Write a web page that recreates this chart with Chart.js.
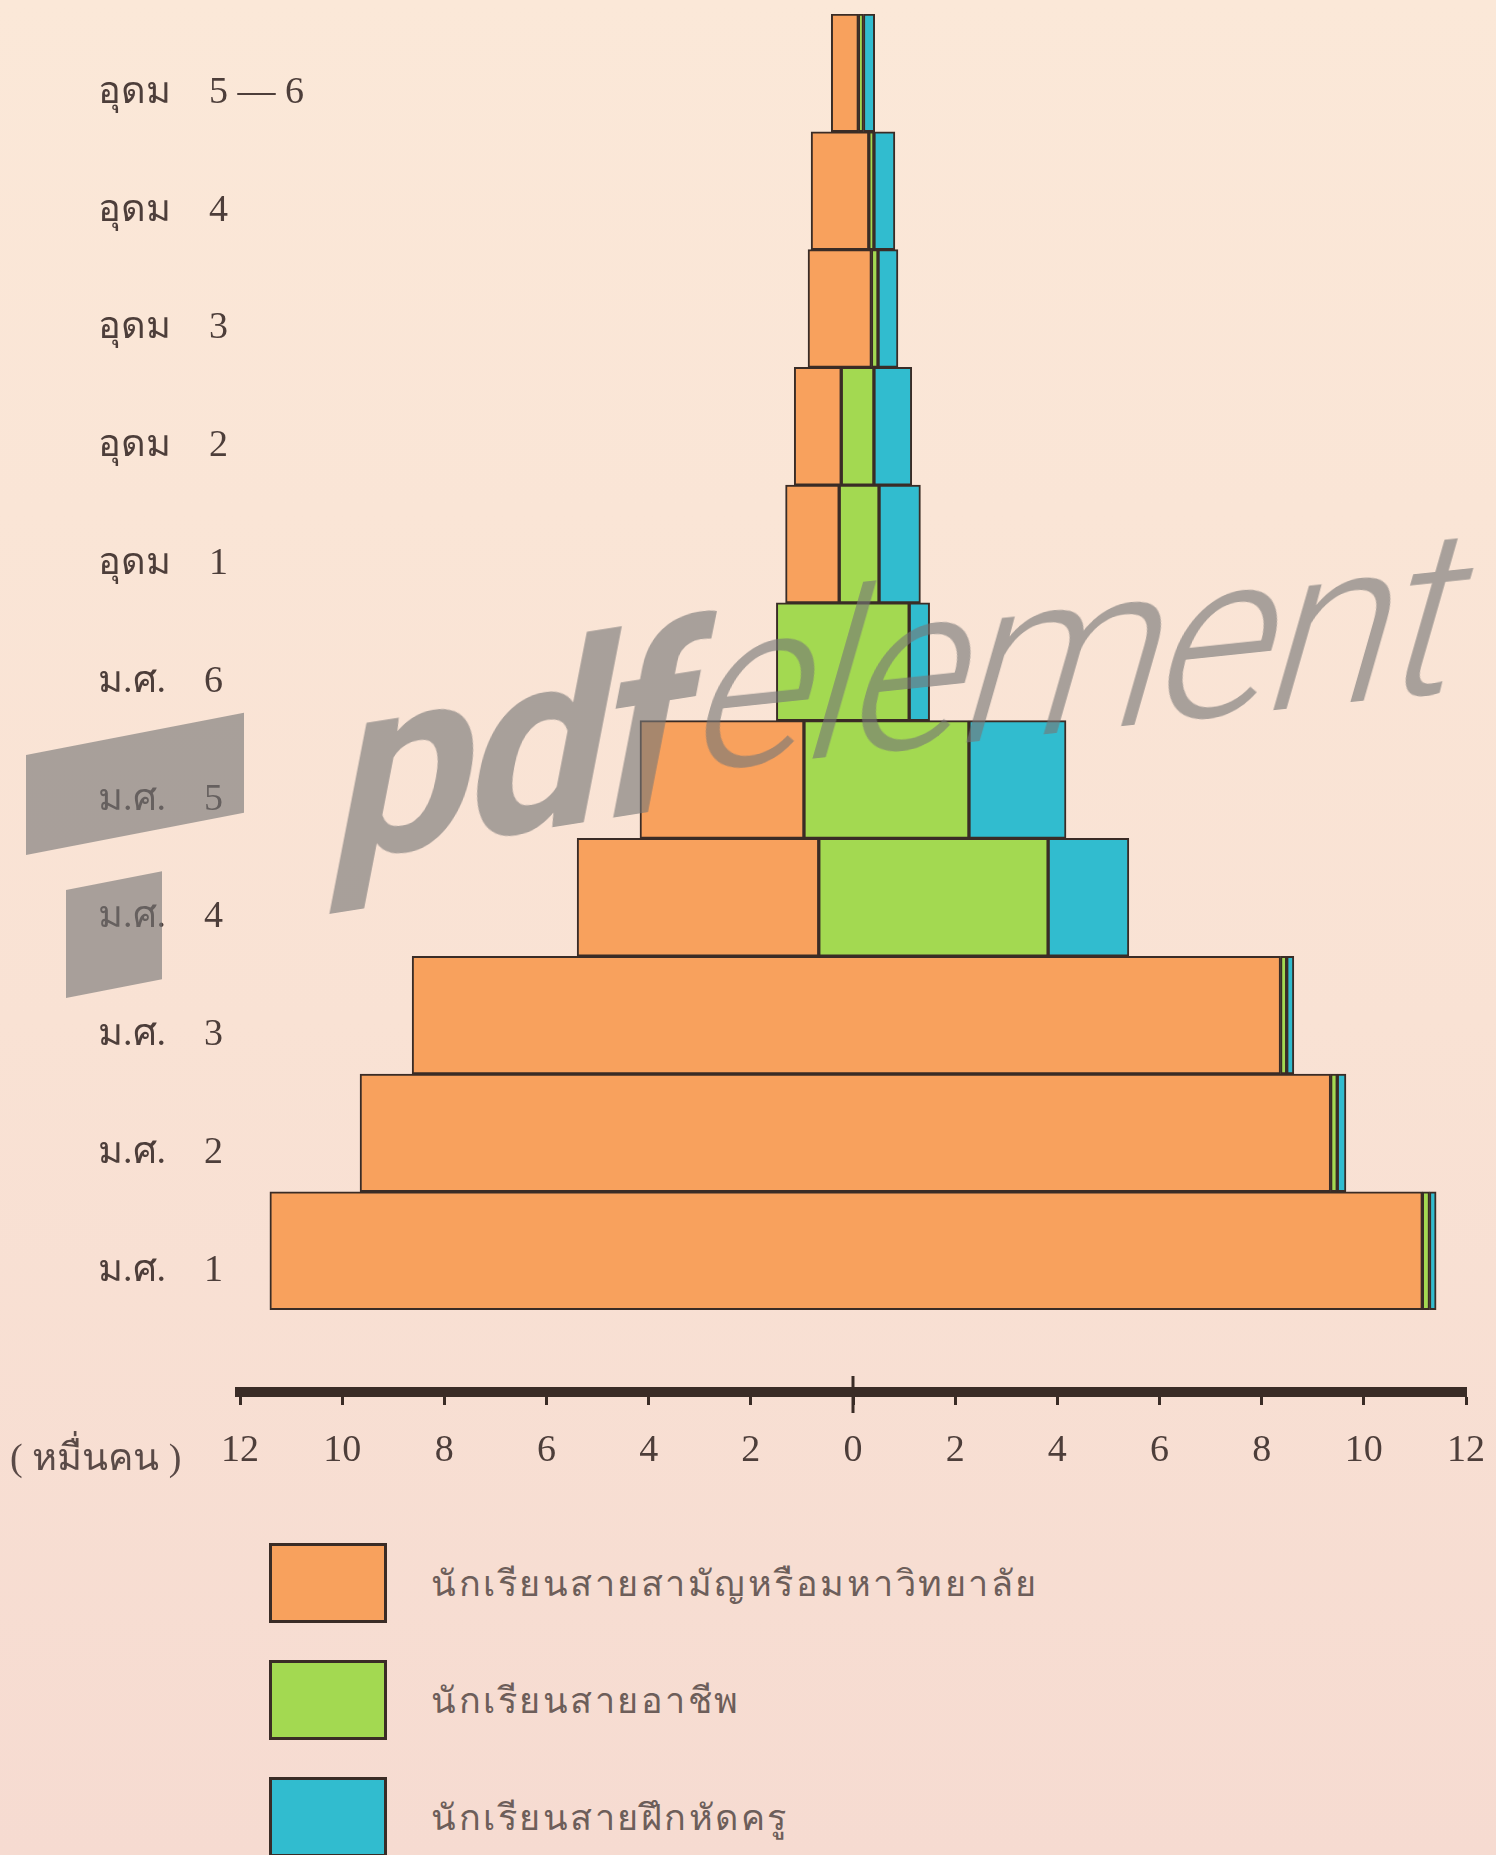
<!DOCTYPE html>
<html>
<head>
<meta charset="utf-8">
<script src="https://cdn.jsdelivr.net/npm/chart.js@4.4.1/dist/chart.umd.min.js"></script>
<style>
  html, body { margin: 0; padding: 0; }
  body {
    width: 1496px; height: 1855px; overflow: hidden; position: relative;
    background: linear-gradient(180deg, #fbe8d8 0%, #f9e2d4 55%, #f6dbd1 100%);
    font-family: "Liberation Serif", "Noto Sans", serif;
  }
  #wrap { position: absolute; left: 0; top: 0; width: 1496px; height: 1480px; }
  .unit { position: absolute; left: 10px; top: 1426px; font-size: 38px; color: #5a4a47; }
  .legend { position: absolute; left: 269px; top: 1543px; }
  .legend .row { display: flex; align-items: center; height: 80px; margin-bottom: 37px; }
  .legend .box { width: 112px; height: 74px; border: 3px solid #3a2c26; margin-right: 44px; }
  .legend .txt { font-size: 36px; color: #6d5e5a; letter-spacing: 2.5px; }
  .wm { position: absolute; pointer-events: none; color: rgba(118,118,118,0.62);
        font-family: Roboto, "Open Sans", sans-serif; white-space: nowrap; line-height: 1;
        transform-origin: 0 84.5%; }
  .wm-pdf { left: 326px; top: 653px; font-size: 250px; font-weight: 700; letter-spacing: -7px;
            transform: rotate(-9deg) skewX(-20deg); }
  .wm-el { left: 682px; top: 580px; font-size: 228px; font-weight: 300; letter-spacing: -6px;
           transform: rotate(-6deg) skewX(-22deg); }
  .wm-bar { background: rgba(118,118,118,0.62); transform-origin: 0 0; }
</style>
</head>
<body>
<div id="wrap"><canvas id="chart" width="1496" height="1480"></canvas></div>
<div class="unit">( หมื่นคน )</div>
<div class="legend" id="legend"></div>
<div class="wm wm-bar" style="left:26px; top:755px; width:218px; height:100px; transform: skewY(-11deg);"></div>
<div class="wm wm-bar" style="left:66px; top:890px; width:96px; height:108px; transform: skewY(-11deg);"></div>
<div class="wm wm-pdf">pdf</div>
<div class="wm wm-el">element</div>
<script>
// แถวจากบนลงล่าง (หน่วย: หมื่นคน)
const rowLabels = ["อุดม 5—6", "อุดม 4", "อุดม 3", "อุดม 2", "อุดม 1",
                   "ม.ศ. 6", "ม.ศ. 5", "ม.ศ. 4", "ม.ศ. 3", "ม.ศ. 2", "ม.ศ. 1"];
const generalStudents    = [0.53, 1.13, 1.24, 0.92, 1.05, 0.00, 3.21, 4.73, 17.00, 19.00, 22.56];
const vocationalStudents = [0.10, 0.10, 0.13, 0.64, 0.78, 2.60, 3.23, 4.49, 0.12, 0.13, 0.14];
const teacherStudents    = [0.22, 0.41, 0.39, 0.74, 0.81, 0.40, 1.90, 1.58, 0.14, 0.17, 0.13];
const seriesLabels = ["นักเรียนสายสามัญหรือมหาวิทยาลัย", "นักเรียนสายอาชีพ", "นักเรียนสายฝึกหัดครู"];
const seriesColors = ["#f8a15d", "#a3d951", "#31bccf"];
const xTickValues = [-12, -10, -8, -6, -4, -2, 0, 2, 4, 6, 8, 10, 12];

const INK = "#3a2c26";

// each row is centred on 0, segments laid side by side
function buildSegments() {
  const all = [generalStudents, vocationalStudents, teacherStudents];
  const out = all.map(() => []);
  rowLabels.forEach((_, i) => {
    const total = all.reduce((s, arr) => s + arr[i], 0);
    let start = -total / 2;
    all.forEach((arr, k) => {
      out[k].push({ x: [start, start + arr[i]], y: i });
      start += arr[i];
    });
  });
  return out;
}

const segs = buildSegments();

// typewriter-ish spacing for the row names
function spaced(label) {
  return label.replace(" ", "    ").replace("—", " — ");
}

const zeroTick = {
  id: "zeroTick",
  afterDraw(chart) {
    const xs = chart.scales.x;
    const px = xs.getPixelForValue(0);
    const ctx = chart.ctx;
    ctx.save();
    ctx.strokeStyle = INK;
    ctx.lineWidth = 3;
    ctx.beginPath();
    ctx.moveTo(px, xs.top - 16);
    ctx.lineTo(px, xs.top + 21);
    ctx.stroke();
    ctx.restore();
  }
};

const chart = new Chart(document.getElementById("chart"), {
  type: "bar",
  data: {
    datasets: seriesLabels.map((label, k) => ({
      label,
      data: segs[k],
      backgroundColor: seriesColors[k],
      borderColor: INK,
      borderWidth: 2,
      borderSkipped: false,
      grouped: false,
      barPercentage: 1,
      categoryPercentage: 1
    }))
  },
  options: {
    indexAxis: "y",
    responsive: false,
    animation: false,
    devicePixelRatio: 1,
    layout: { padding: { left: 240, top: 14, right: 30, bottom: 0 } },
    plugins: { legend: { display: false }, tooltip: { enabled: false } },
    scales: {
      y: {
        type: "linear",
        reverse: true,
        offset: false,
        min: -0.5,
        max: 11.2,
        afterBuildTicks: s => { s.ticks = rowLabels.map((_, i) => ({ value: i })); },
        afterFit: s => { s.width = 0; },
        grid: { display: false, offset: false },
        border: { display: false },
        ticks: {
          autoSkip: false,
          mirror: true,
          padding: -142,
          labelOffset: 20,
          color: "#4d3e3a",
          font: { family: "'Liberation Serif', serif", size: 38 },
          callback: v => rowLabels[v] ? spaced(rowLabels[v]) : ""
        }
      },
      x: {
        type: "linear",
        min: -12,
        max: 12,
        afterBuildTicks: s => { s.ticks = xTickValues.map(v => ({ value: v })); },
        afterFit: s => { s.height = 88; },
        grid: { drawOnChartArea: false, drawTicks: true, tickLength: 13, tickWidth: 3, tickColor: INK },
        border: { display: true, color: INK, width: 10 },
        ticks: {
          autoSkip: false,
          maxRotation: 0,
          padding: 10,
          color: "#4d3e3a",
          font: { family: "'Liberation Serif', serif", size: 38, lineHeight: 1.88 },
          callback: v => String(Math.abs(v))
        }
      }
    }
  },
  plugins: [zeroTick]
});

// legend below the axis
const legendEl = document.getElementById("legend");
chart.data.datasets.forEach(ds => {
  const row = document.createElement("div");
  row.className = "row";
  const box = document.createElement("div");
  box.className = "box";
  box.style.background = ds.backgroundColor;
  const txt = document.createElement("div");
  txt.className = "txt";
  txt.textContent = ds.label;
  row.appendChild(box);
  row.appendChild(txt);
  legendEl.appendChild(row);
});
</script>
</body>
</html>
